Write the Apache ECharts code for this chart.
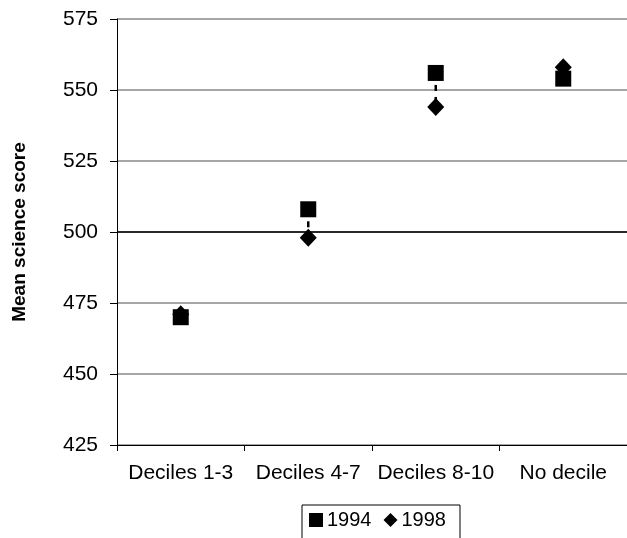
<!DOCTYPE html>
<html><head><meta charset="utf-8">
<script src="https://cdn.jsdelivr.net/npm/echarts@6/dist/echarts.min.js"></script>
<style>html,body{margin:0;padding:0;background:#fff}#c{width:627px;height:538px}</style>
</head><body><div id="c"></div>
<script>
var categories = ['Deciles 1-3', 'Deciles 4-7', 'Deciles 8-10', 'No decile'];
var s1994 = [470, 508, 556, 554];
var s1998 = [471, 498, 544, 558];
var yMin = 425, yMax = 575, yStep = 25;

var chart = echarts.init(document.getElementById('c'));
var font = '"Liberation Sans", Arial, sans-serif';
var pairs = categories.map(function (c, i) { return [i, s1994[i], s1998[i]]; });

chart.setOption({
  animation: false,
  textStyle: { fontFamily: font },
  grid: { left: 117, top: 19, height: 426, width: 514, containLabel: false },
  legend: {
    left: 302, top: 505,
    data: [{ name: '1994', icon: 'rect' }, { name: '1998', icon: 'diamond' }],
    itemWidth: 14, itemHeight: 14, itemGap: 12,
    textStyle: { fontSize: 20, color: '#000', fontFamily: font, padding: [0, 0, 0, -1] },
    borderColor: '#000', borderWidth: 1, padding: [5, 14, 10, 7],
    selectedMode: false
  },
  xAxis: {
    type: 'category', data: categories, boundaryGap: true,
    axisLine: { lineStyle: { color: '#000', width: 1 } },
    axisTick: { show: true, length: 6, lineStyle: { color: '#000' }, alignWithLabel: false },
    axisLabel: { fontSize: 21, color: '#000', margin: 18, interval: 0 },
    splitLine: { show: false }
  },
  yAxis: {
    type: 'value', min: yMin, max: yMax, interval: yStep,
    name: 'Mean science score', nameLocation: 'middle', nameGap: 88,
    nameTextStyle: { fontSize: 19, fontWeight: 'bold', color: '#000' },
    axisLine: { show: true, lineStyle: { color: '#000', width: 1 } },
    axisTick: { show: true, length: 7, lineStyle: { color: '#000' } },
    axisLabel: { fontSize: 21, color: '#000', margin: 19 },
    splitLine: { show: true, lineStyle: { color: '#888', width: 1.5 } }
  },
  series: [
    {
      type: 'custom', name: 'diff', z: 1, silent: true,
      data: pairs,
      encode: { x: 0, y: [1, 2] },
      renderItem: function (params, api) {
        var p1 = api.coord([api.value(0), api.value(1)]);
        var p2 = api.coord([api.value(0), api.value(2)]);
        return { type: 'line', shape: { x1: p1[0], y1: p1[1], x2: p2[0], y2: p2[1] },
          style: { stroke: '#000', lineWidth: 2.5, lineDash: [6, 6] } };
      }
    },
    {
      type: 'scatter', name: '1994', data: s1994, symbol: 'rect', symbolSize: 16, z: 3,
      itemStyle: { color: '#000', opacity: 1 },
      markLine: { silent: true, symbol: 'none', label: { show: false },
        lineStyle: { color: '#000', width: 1.5, type: 'solid' }, data: [{ yAxis: 500 }] }
    },
    {
      type: 'scatter', name: '1998', data: s1998, symbol: 'diamond', symbolSize: [17, 18], z: 4,
      itemStyle: { color: '#000', opacity: 1 }
    }
  ]
});
</script></body></html>
